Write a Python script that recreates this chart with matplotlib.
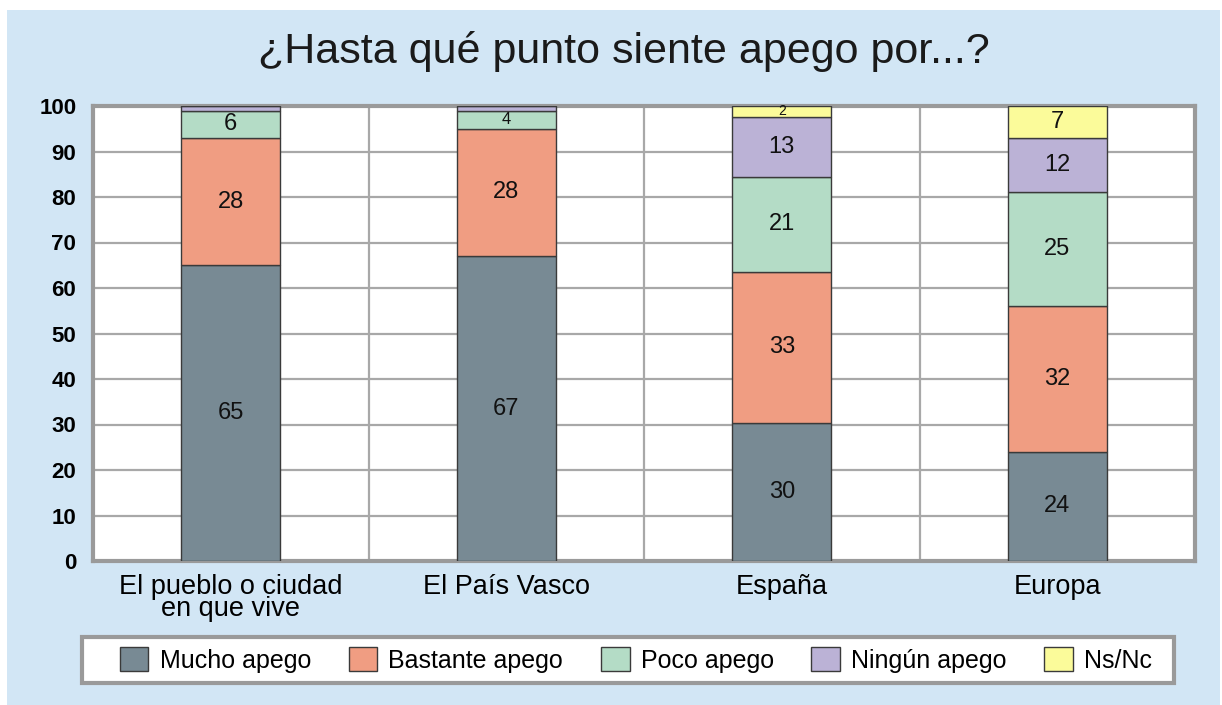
import numpy as np
import matplotlib
matplotlib.use("Agg")
import matplotlib.pyplot as plt
from matplotlib.patches import Rectangle

plt.rcParams["font.family"] = ["Liberation Sans", "DejaVu Sans"]

categorias = ["El pueblo o ciudad\nen que vive", "El País Vasco", "España", "Europa"]
series = ["Mucho apego", "Bastante apego", "Poco apego", "Ningún apego", "Ns/Nc"]
mucho = [65, 67, 30.4, 24]
bastante = [28, 28, 33.1, 32]
poco = [6, 4, 21, 25]
ningun = [1, 1, 13.1, 12]
nsnc = [0, 0, 2.4, 7]
colores = ["#788a94", "#f09d82", "#b4dcc6", "#bbb2d6", "#fbfb9a"]

W, H = 1222, 705
fig = plt.figure(figsize=(W / 100, H / 100), dpi=100)
fig.patch.set_facecolor("white")
fig.add_artist(Rectangle((7 / W, 0), (1220 - 7) / W, (H - 10) / H,
                         transform=fig.transFigure, facecolor="#d2e6f5", edgecolor="none", zorder=0))

ax = fig.add_axes([93 / W, 1 - 561 / H, (1195 - 93) / W, (561 - 106) / H])
ax.set_facecolor("white")
x = np.arange(len(categorias))
bottom = np.zeros(len(categorias))
for nombre, vals, col in zip(series, [mucho, bastante, poco, ningun, nsnc], colores):
    vals = np.array(vals, float)
    ax.bar(x, vals, 0.36, bottom=bottom, color=col, edgecolor="#3a3a3a", linewidth=1.0,
           label=nombre, zorder=3)
    for xi, b, v in zip(x, bottom, vals):
        if v >= 1.5:
            fs = 10 if v < 3 else (12 if v < 5 else 17)
            ax.text(xi, b + v / 2, f"{round(v):d}", ha="center", va="center",
                    fontsize=fs, color="#111111", zorder=4)
    bottom += vals

ax.set_xlim(-0.5, len(categorias) - 0.5)
ax.set_ylim(0, 100)
ax.set_yticks(range(0, 101, 10))
ax.set_xticks(x)
ax.set_xticklabels(categorias, fontsize=19.5, linespacing=0.82)
for lab in ax.get_yticklabels():
    lab.set_fontweight("bold")
    lab.set_fontsize(16)
ax.tick_params(axis="y", length=0, pad=12)
ax.tick_params(axis="x", length=0, pad=9)
ax.yaxis.grid(True, color="#a8a8a8", linewidth=1.6, zorder=1)
for sep in np.arange(0.5, len(categorias) - 0.5):
    ax.axvline(sep, color="#a8a8a8", linewidth=1.6, zorder=1)
for s in ax.spines.values():
    s.set_color("#9a9a9a")
    s.set_linewidth(3)

fig.text(624 / W, 1 - 52 / H, "¿Hasta qué punto siente apego por...?", ha="center", va="center",
         fontsize=31, color="#1a1a1a")

# caja de la leyenda dibujada aparte para fijar su tamaño
fig.add_artist(Rectangle((82 / W, 1 - 683 / H), (1174 - 82) / W, (683 - 637) / H,
                         transform=fig.transFigure, facecolor="white", edgecolor="#9a9a9a",
                         linewidth=3, zorder=1))
leg = fig.legend(loc="center", bbox_to_anchor=(636 / W, 1 - 660 / H), ncol=5, fontsize=18,
                 frameon=False, handlelength=1.15, handleheight=1.1,
                 columnspacing=1.5, handletextpad=0.45, borderpad=0.35)
leg.set_zorder(2)

fig.savefig("out.png", dpi=100, facecolor=fig.get_facecolor())
